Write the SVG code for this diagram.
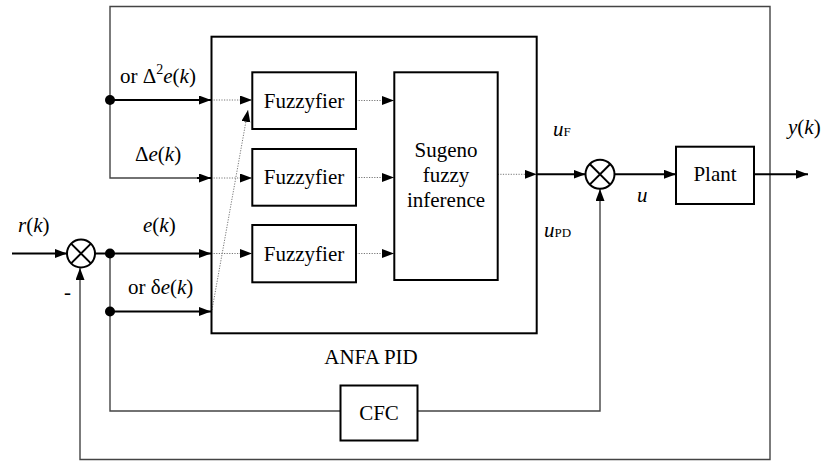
<svg xmlns="http://www.w3.org/2000/svg" width="824" height="461" viewBox="0 0 824 461">
<style>
text{font-family:"Liberation Serif","DejaVu Serif","Noto Serif",serif;font-size:21px;fill:#000}
.i{font-style:italic}
.blk{fill:#fff;stroke:#000;stroke-width:2}
.thick{fill:none;stroke:#000;stroke-width:2}
.thin{fill:none;stroke:#444;stroke-width:1.4}
.dot{fill:none;stroke:#777;stroke-width:1;stroke-dasharray:1.2 1.4}
.sum{fill:#fff;stroke:#000;stroke-width:2}
</style>
<defs>
<marker id="ah" markerUnits="userSpaceOnUse" markerWidth="12" markerHeight="10" refX="12" refY="4.5" orient="auto">
<path d="M0,0 L12,4.5 L0,9 z" fill="#000"/>
</marker>
</defs>
<g id="connectors">
<path class="thin" d="M770,174 V6.5 H110 V178 H199"/>
<path class="thick" d="M197,178 H211" marker-end="url(#ah)"/>
<path class="thin" d="M770,174 V459.5 H80 V268" marker-end="url(#ah)"/>
<path class="thick" d="M110,100 H211" marker-end="url(#ah)"/>
<path class="thick" d="M12,253.5 H67" marker-end="url(#ah)"/>
<path class="thick" d="M95,253.5 H211" marker-end="url(#ah)"/>
<path class="thin" d="M110,253.5 V411 H340"/>
<path class="thick" d="M110,311.5 H211" marker-end="url(#ah)"/>
<path class="thin" d="M417,411 H600 V189" marker-end="url(#ah)"/>
<path class="thick" d="M536.7,174.3 H585.5" marker-end="url(#ah)"/>
<path class="thick" d="M614.5,174.3 H676" marker-end="url(#ah)"/>
<path class="thick" d="M754,174.3 H808" marker-end="url(#ah)"/>
<path class="dot" d="M211,100 H252" marker-end="url(#ah)"/>
<path class="dot" d="M211,178 H252" marker-end="url(#ah)"/>
<path class="dot" d="M211,253.5 H252" marker-end="url(#ah)"/>
<path class="dot" d="M212,310 L248,110" marker-end="url(#ah)"/>
<path class="dot" d="M356,100.5 H394" marker-end="url(#ah)"/>
<path class="dot" d="M356,177.5 H394" marker-end="url(#ah)"/>
<path class="dot" d="M356,253.5 H394" marker-end="url(#ah)"/>
<path class="dot" d="M497.7,174.3 H536.7" marker-end="url(#ah)"/>
<circle cx="110" cy="100" r="5" fill="#000"/>
<circle cx="110" cy="253.5" r="5" fill="#000"/>
<circle cx="110" cy="311.5" r="5" fill="#000"/>
</g>
<g id="anfa">
<rect x="211.5" y="36.7" width="325.2" height="296.6" fill="none" stroke="#000" stroke-width="2"/>
<text x="371" y="364" text-anchor="middle">ANFA PID</text>
</g>
<g id="fuzzyfier1">
<rect class="blk" x="252.3" y="72.3" width="103.7" height="56.7"/>
<text x="304" y="107.5" text-anchor="middle">Fuzzyfier</text>
</g>
<g id="fuzzyfier2">
<rect class="blk" x="252.3" y="149" width="103.7" height="56.7"/>
<text x="304" y="184" text-anchor="middle">Fuzzyfier</text>
</g>
<g id="fuzzyfier3">
<rect class="blk" x="252.3" y="225" width="103.7" height="57.3"/>
<text x="304" y="260.5" text-anchor="middle">Fuzzyfier</text>
</g>
<g id="sugeno">
<rect class="blk" x="394.3" y="72.3" width="103.4" height="207.7"/>
<text x="446" y="157" text-anchor="middle">Sugeno</text>
<text x="446" y="182" text-anchor="middle">fuzzy</text>
<text x="446" y="207" text-anchor="middle">inference</text>
</g>
<g id="sum1">
<circle class="sum" cx="81" cy="253.5" r="14"/>
<path d="M71.1,243.6 L90.9,263.4 M71.1,263.4 L90.9,243.6" stroke="#000" stroke-width="2"/>
</g>
<g id="sum2">
<circle class="sum" cx="600" cy="174.3" r="14.5"/>
<path d="M589.7,164 L610.3,184.6 M589.7,184.6 L610.3,164" stroke="#000" stroke-width="2"/>
</g>
<g id="plant">
<rect class="blk" x="676" y="146.7" width="78" height="57.3"/>
<text x="715" y="181" text-anchor="middle">Plant</text>
</g>
<g id="cfc">
<rect class="blk" x="340.5" y="385.5" width="77" height="55"/>
<text x="379" y="420" text-anchor="middle">CFC</text>
</g>
<g id="labels">
<text x="120" y="83">or Δ<tspan dy="-9" font-size="14">2</tspan><tspan dy="9" class="i">e</tspan>(<tspan class="i">k</tspan>)</text>
<text x="135" y="161">Δ<tspan class="i">e</tspan>(<tspan class="i">k</tspan>)</text>
<text x="18" y="232"><tspan class="i">r</tspan>(<tspan class="i">k</tspan>)</text>
<text x="143" y="232"><tspan class="i">e</tspan>(<tspan class="i">k</tspan>)</text>
<text x="128" y="294">or δ<tspan class="i">e</tspan>(<tspan class="i">k</tspan>)</text>
<text x="64" y="299">-</text>
<text x="553" y="136"><tspan class="i">u</tspan><tspan font-size="13">F</tspan></text>
<text x="544" y="237"><tspan class="i">u</tspan><tspan font-size="13">PD</tspan></text>
<text x="637" y="202" class="i">u</text>
<text x="788" y="134"><tspan class="i">y</tspan>(<tspan class="i">k</tspan>)</text>
</g>
</svg>
